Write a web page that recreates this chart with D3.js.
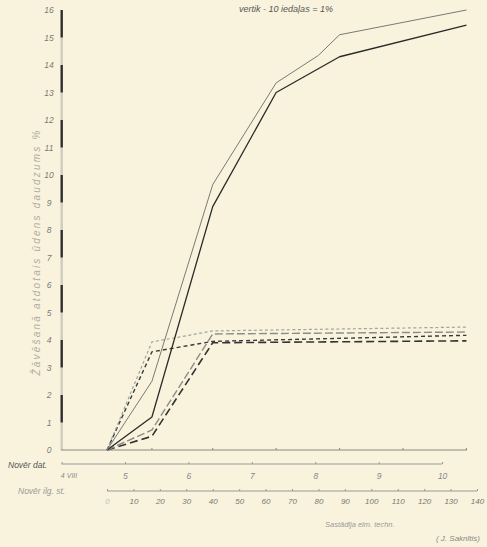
<!DOCTYPE html>
<html><head><meta charset="utf-8">
<script src="https://cdn.jsdelivr.net/npm/d3@7"></script>
<style>
body{margin:0;background:#f9f3dd;}
svg{display:block;}
text{font-family:"Liberation Sans",Arial,sans-serif;font-style:italic;}
</style></head><body>
<svg id="c" width="487" height="547"></svg>
<script>
// observation hours (Novēr. ilg. st.)
const hoursA = [0, 17, 40, 64, 88, 136];
const hoursB = [0, 17, 40, 64, 80, 88, 136];
const hoursD = [0, 17, 40, 136];
// series values, % water released
const solidBlack = [0, 1.2, 8.85, 13.0, 14.3, 15.45];
const solidGray  = [0, 2.5, 9.65, 13.35, 14.35, 15.1, 16.0];
const dashLight  = [0, 3.93, 4.33, 4.47];
const dashBlack  = [0, 3.57, 3.95, 4.17];
const dashGray   = [0, 0.73, 4.22, 4.29];
const dashLong   = [0, 0.5, 3.9, 3.97];
const yTicks = d3.range(0, 17);
const dayTicks = [4, 5, 6, 7, 8, 9, 10];
const dayLabels = ["4 VIII", "5", "6", "7", "8", "9", "10"];
const hourTicks = d3.range(0, 141, 10);
const obsTicks = [17, 40, 64, 88, 112, 136];

const svg = d3.select("#c");
const x = d3.scaleLinear().domain([0, 140]).range([107, 477]);
const y = d3.scaleLinear().domain([0, 16]).range([450, 10]);
// date scale: day 4 VIII 00h corresponds to -17.2 h of the observation clock
const xd = d3.scaleLinear().domain([4, 10]).range([x(-17.2), x(-17.2 + 144)]);

// title
svg.append("text").attr("x", 286).attr("y", 12).attr("text-anchor", "middle")
  .attr("font-size", 9).attr("fill", "#555").text("vertik - 10 iedaļas = 1%");

// y axis bar (alternating scale)
const yb = svg.append("g");
yTicks.slice(0, 16).forEach(i => {
  yb.append("rect").attr("x", 60.5).attr("width", 2.4)
    .attr("y", y(i + 1)).attr("height", y(i) - y(i + 1))
    .attr("fill", i % 2 === 1 ? "#2e2e2e" : "#cfccbd");
});
// y tick labels
const ya = svg.append("g").attr("transform", "translate(49,0)")
  .call(d3.axisLeft(y).tickValues(yTicks).tickSize(0).tickPadding(0));
ya.select(".domain").remove();
ya.selectAll("text").attr("text-anchor", "middle").attr("x", 0)
  .attr("font-size", 8.5).attr("fill", "#7a7a7a").style("font-family", "Liberation Sans").style("font-style", "italic");

// y title
svg.append("text").attr("transform", `translate(40,${y(7.2)}) rotate(-90)`)
  .attr("text-anchor", "middle").attr("font-size", 10).attr("fill", "#b0aca0")
  .attr("letter-spacing", 2.2).text("Žāvēšanā atdotais ūdens daudzums %");

// baseline
svg.append("line").attr("x1", 61).attr("x2", 467).attr("y1", y(0)).attr("y2", y(0))
  .attr("stroke", "#8a8a80").attr("stroke-width", 1.2);
svg.selectAll(".ob").data(obsTicks).join("line")
  .attr("x1", d => x(d)).attr("x2", d => x(d)).attr("y1", y(0) - 2).attr("y2", y(0))
  .attr("stroke", "#888").attr("stroke-width", 1);

// date axis
const da = svg.append("g").attr("transform", "translate(0,464)")
  .call(d3.axisBottom(xd).tickValues(dayTicks).tickSize(-2).tickPadding(9)
    .tickFormat((d, i) => dayLabels[i]));
da.select(".domain").attr("stroke", "#999").attr("d", `M${xd(4)},0H${xd(10)}`);
da.selectAll(".tick line").attr("stroke", "#999");
da.selectAll("text").attr("font-size", 8.5).attr("fill", "#888")
  .style("font-family", "Liberation Sans").style("font-style", "italic");
da.selectAll(".tick").filter(d => d === 4).select("text").attr("dx", 7).attr("font-size", 7);
svg.append("text").attr("x", 8).attr("y", 468).attr("font-size", 8.5).attr("fill", "#555").text("Novēr dat.");

// hours axis
const ha = svg.append("g").attr("transform", "translate(0,491)")
  .call(d3.axisBottom(x).tickValues(hourTicks).tickSize(-2).tickPadding(7));
ha.select(".domain").attr("stroke", "#999").attr("d", `M${x(0)},0H${x(140)}`);
ha.selectAll(".tick line").attr("stroke", "#999");
ha.selectAll("text").attr("font-size", 8).attr("fill", "#777")
  .style("font-family", "Liberation Sans").style("font-style", "italic");
ha.selectAll(".tick").filter(d => d === 0).select("text").attr("fill", "#bbb");
svg.append("text").attr("x", 18).attr("y", 494).attr("font-size", 8.5).attr("fill", "#999").text("Novēr ilg. st.");

// footer
svg.append("text").attr("x", 325).attr("y", 527).attr("font-size", 7.5).attr("fill", "#999").text("Sastādīja elm. techn.");
svg.append("text").attr("x", 480).attr("y", 541).attr("text-anchor", "end").attr("font-size", 8).attr("fill", "#888").text("( J. Saknītis)");

// lines
const line = d3.line().x(d => x(d[0])).y(d => y(d[1]));
const series = [
  {h: hoursD, v: dashLong,  stroke: "#333", w: 1.6, dash: "8,4"},
  {h: hoursD, v: dashGray,  stroke: "#8c8c86", w: 1.4, dash: "8,3"},
  {h: hoursD, v: dashBlack, stroke: "#3a3a3a", w: 1.4, dash: "4,3"},
  {h: hoursD, v: dashLight, stroke: "#9aa6a4", w: 1.2, dash: "3,2.5"},
  {h: hoursA, v: solidBlack, stroke: "#2a2a2a", w: 1.3, dash: null},
  {h: hoursB, v: solidGray,  stroke: "#7a7a74", w: 1, dash: null}
];
series.forEach(s => {
  svg.append("path").datum(s.h.map((h, i) => [h, s.v[i]]))
    .attr("d", line).attr("fill", "none").attr("stroke", s.stroke)
    .attr("stroke-width", s.w).attr("stroke-dasharray", s.dash)
    .attr("stroke-linejoin", "round");
});
</script></body></html>
